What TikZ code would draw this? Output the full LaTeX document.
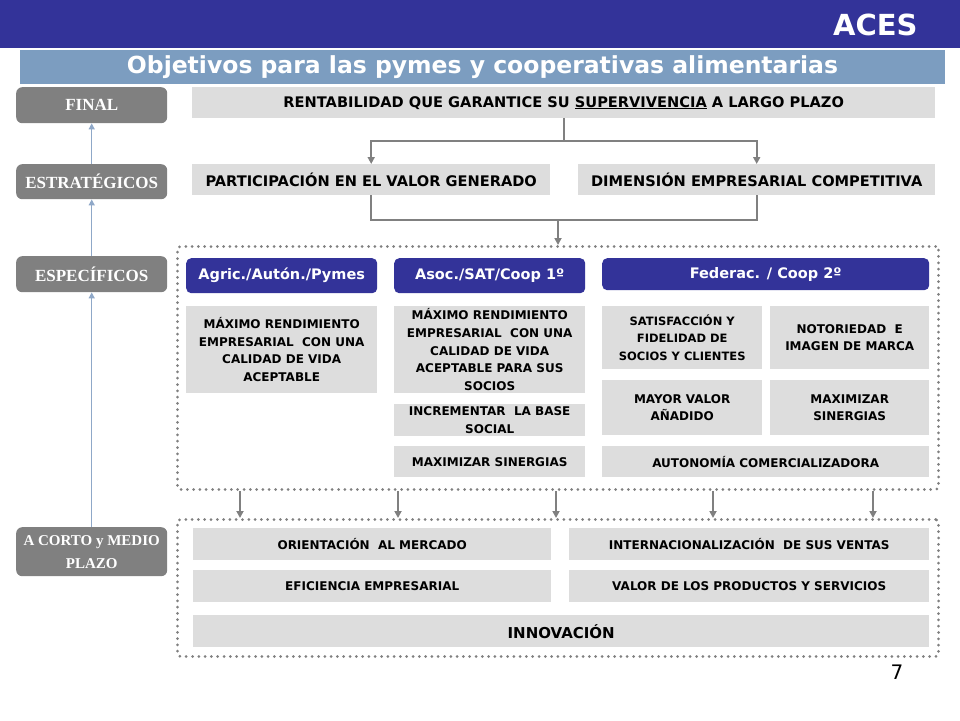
\documentclass[tikz,border=0pt]{standalone}
\usepackage{fontspec}
\setmainfont{DejaVu Sans}
\newfontfamily\labfont{Liberation Serif}
\usetikzlibrary{arrows.meta}

\definecolor{acesblue}{RGB}{51,51,153}
\definecolor{titleblue}{RGB}{124,157,192}
\definecolor{lvlgray}{RGB}{128,128,128}
\definecolor{boxgray}{RGB}{221,221,221}
\definecolor{conngray}{RGB}{128,128,128}
\definecolor{dotgray}{RGB}{128,128,128}
\definecolor{upblue}{RGB}{143,168,200}
\newcommand\fs[2]{\fontsize{#1}{#2}\selectfont}

\begin{document}
\begin{tikzpicture}[x=1pt,y=-1pt,
	wh/.style 2 args={anchor=north west,minimum width=#1pt,minimum height=#2pt},
	lvl/.style={fill=lvlgray,rounded corners=6pt,text=white,align=center,inner sep=0pt,font=\labfont\bfseries\fs{17}{23}},
	obj/.style={fill=boxgray,inner sep=0pt,align=center,font=\bfseries\fs{12}{17.6}},
	big/.style={obj,font=\bfseries\fs{14.6}{18}},
	hdr/.style={fill=acesblue,rounded corners=5pt,text=white,inner sep=0pt,font=\bfseries\fs{14.5}{18}},
	dotbox/.style={draw=dotgray,line width=3pt,dash pattern=on 0pt off 6.3pt,line cap=round,rounded corners=3pt,inner sep=0pt},
	conn/.style={conngray,line width=2pt,-{Triangle[length=7pt,width=7pt]}},
	up/.style={upblue,line width=1.3pt,-{Triangle[length=6pt,width=6pt]}}]
				\useasboundingbox (0,0) rectangle (960,720);
				% cabecera
				\fill[acesblue] (0,0) rectangle (960,48);
				\node[anchor=east,text=white,font=\bfseries\fs{29}{32}] (aces) at (921,25) {ACES};
				\fill[titleblue] (20,50) rectangle (945,84);
				\node[text=white,font=\bfseries\fs{23.5}{26}] (title) at (482.5,67) {Objetivos para las pymes y cooperativas alimentarias};

				% niveles
				\node[lvl,wh={151}{36}] (final) at (16,87) {FINAL};
				\node[lvl,wh={151}{35}] (estr) at (16,164) {ESTRATÉGICOS};
				\node[lvl,wh={151}{36}] (espe) at (16,256) {ESPECÍFICOS};
				\node[lvl,wh={151}{49},font=\labfont\bfseries\fs{15}{23}] (corto) at (16,527) {A CORTO y MEDIO\\PLAZO};
				\draw[up] (estr.north) -- (final.south);
				\draw[up] (espe.north) -- (estr.south);
				\draw[up] (corto.north) -- (espe.south);

				\node[big,wh={743}{31}] (rent) at (192,87) {RENTABILIDAD QUE GARANTICE SU \underline{SUPERVIVENCIA} A LARGO PLAZO};
				\node[big,wh={358}{31}] (part) at (192,164) {PARTICIPACIÓN EN EL VALOR GENERADO};
				\node[big,wh={357}{31}] (dim) at (578,164) {DIMENSIÓN EMPRESARIAL COMPETITIVA};

				\node[dotbox,wh={761}{243}] (espbox) at (176,245) {};
				\node[dotbox,wh={761}{137}] (cmpbox) at (176,518) {};

				\draw[conn] (rent.south) -- ++(0,23) -| (part.north);
				\draw[conn] (rent.south) -- ++(0,23) -| (dim.north);
				\draw[conn,-] (part.south) -- ++(0,25) coordinate (pj) -| (dim.south);
				\coordinate (join) at (pj -| espbox.north);
				\draw[conn] (join) -- (espbox.north);

				% especificos
				\node[hdr,wh={191}{35}] (agr) at (186,258) {Agric./Autón./Pymes};
				\node[hdr,wh={191}{35}] (asoc) at (394,258) {Asoc./SAT/Coop 1º};
				\node[hdr,wh={327}{32}] (fed) at (602,258) {Federac. / Coop 2º};
				\node[obj,wh={191}{87}] (agr1) at (186,306) {MÁXIMO RENDIMIENTO\\EMPRESARIAL\ \ CON UNA\\CALIDAD DE VIDA\\ACEPTABLE};
				\node[obj,wh={191}{87}] (asoc1) at (394,306) {MÁXIMO RENDIMIENTO\\EMPRESARIAL\ \ CON UNA\\CALIDAD DE VIDA\\ACEPTABLE PARA SUS\\SOCIOS};
				\node[obj,wh={191}{32}] (asoc2) at (394,404) {INCREMENTAR\ \ LA BASE\\SOCIAL};
				\node[obj,wh={191}{31}] (asoc3) at (394,446) {MAXIMIZAR SINERGIAS};
				\node[obj,wh={160}{63},font=\bfseries\fs{11.5}{17.2}] (fed1) at (602,306) {SATISFACCIÓN Y\\FIDELIDAD DE\\SOCIOS Y CLIENTES};
				\node[obj,wh={159}{63}] (fed2) at (770,306) {NOTORIEDAD\ \ E\\IMAGEN DE MARCA};
				\node[obj,wh={160}{55}] (fed3) at (602,380) {MAYOR VALOR\\AÑADIDO};
				\node[obj,wh={159}{55}] (fed4) at (770,380) {MAXIMIZAR\\SINERGIAS};
				\node[obj,wh={327}{31}] (fed5) at (602,446) {AUTONOMÍA COMERCIALIZADORA};

				\foreach \x in {240,398,556,713,873} {
					\coordinate (t) at (\x,0);
					\draw[conn] (espbox.south -| t) -- (cmpbox.north -| t);
				}

				% corto y medio plazo
				\node[obj,wh={358}{32}] (ori) at (193,528) {ORIENTACIÓN\ \ AL MERCADO};
				\node[obj,wh={360}{32}] (inter) at (569,528) {INTERNACIONALIZACIÓN\ \ DE SUS VENTAS};
				\node[obj,wh={358}{32}] (efi) at (193,570) {EFICIENCIA EMPRESARIAL};
				\node[obj,wh={360}{32}] (valor) at (569,570) {VALOR DE LOS PRODUCTOS Y SERVICIOS};
				\node[obj,wh={736}{32},font=\bfseries\fs{15}{18}] (inno) at (193,615) {INNOVACIÓN};

				\node[font=\fs{20}{22}] (pg) at (897,672) {7};
\end{tikzpicture}
\end{document}
